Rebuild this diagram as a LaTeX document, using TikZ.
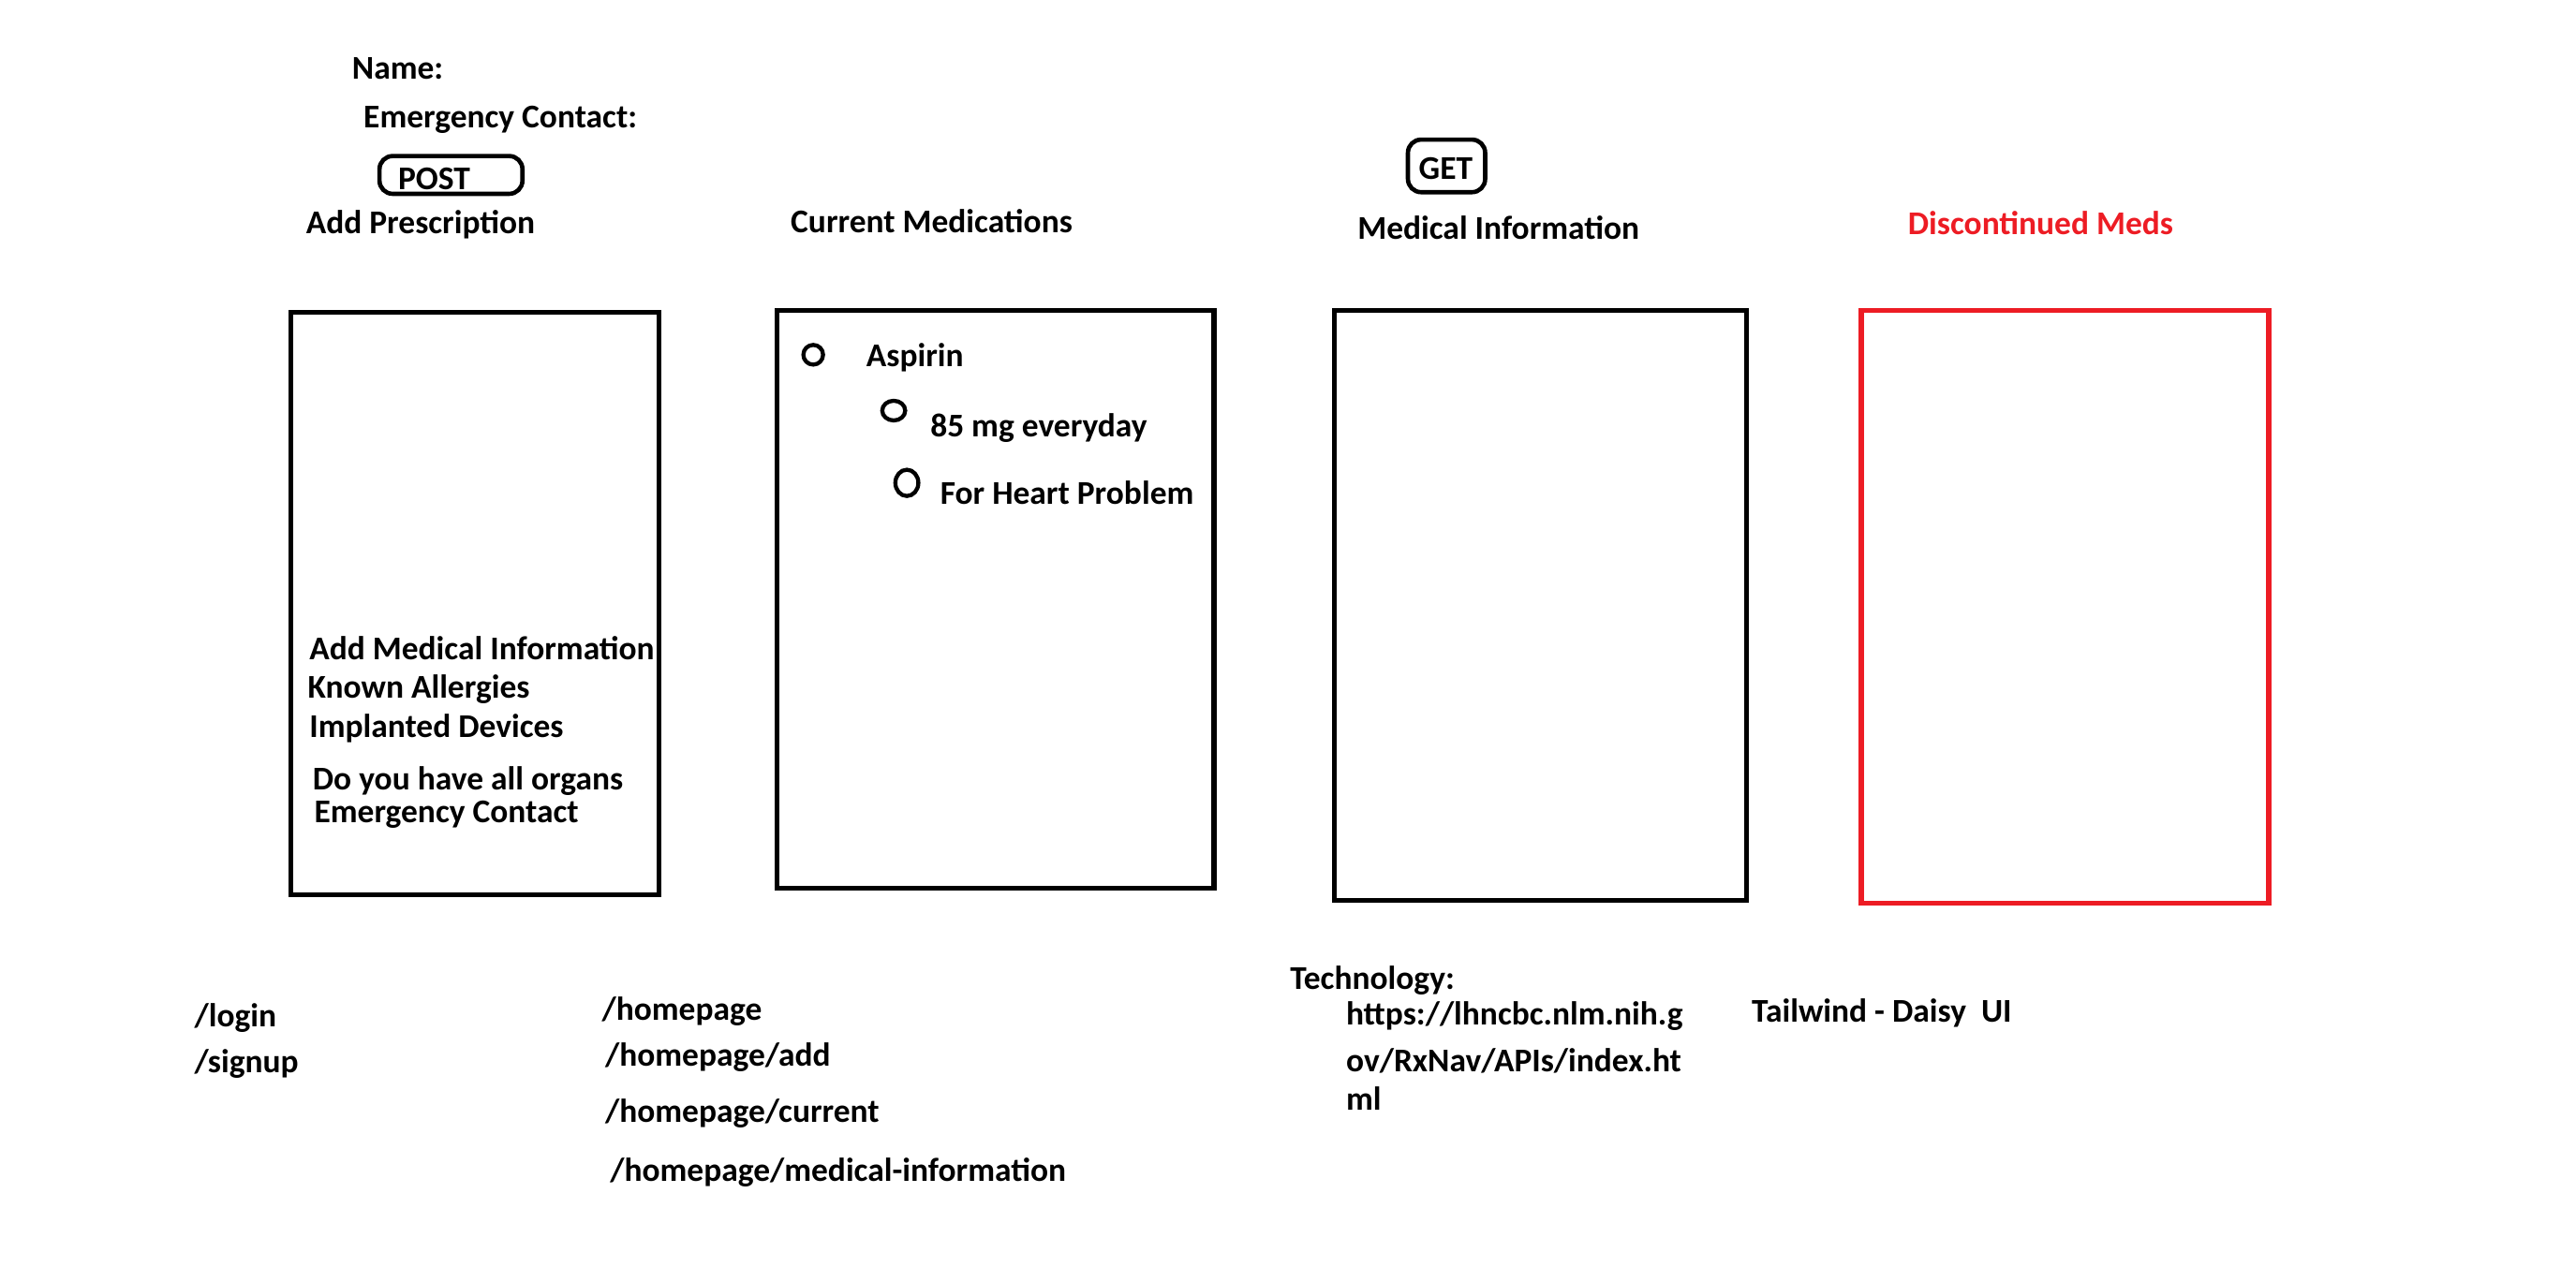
\documentclass[tikz,border=0pt]{standalone}
\usepackage{fontspec}
\setmainfont{Carlito}
\usepackage{tikz}
\definecolor{paintred}{RGB}{237,28,36}

\begin{document}
\begin{tikzpicture}[x=0.2mm, y=-0.2mm,
    txt/.style={anchor=west, inner sep=0pt, yshift=-0.35mm, font=\fontsize{11.5}{13}\selectfont\bfseries},
    panel/.style={draw, line width=1.7pt},
    btn/.style={draw, line width=1.5pt, rounded corners=1.6mm, inner sep=0pt}]
    \useasboundingbox (0,0) rectangle (1568,771);

    % header
    \draw
    (214,40) node[txt] (name) {Name:}
    (221,71) node[txt] (emerg) {Emergency Contact:}
    (186,135) node[txt] (addpres) {Add Prescription}
    (481,133) node[txt] (curmeds) {Current Medications}
    (826,137) node[txt] (medinfo) {Medical Information}
    (1161,134) node[txt, text=paintred] (discmeds) {Discontinued Meds}
    ;
    \draw[btn] (231,95) rectangle (318,118);
    \node[txt] (post) at (242,107) {POST};
    \draw[btn] (857,85) rectangle (904,117);
    \node[txt, anchor=center] (get) at (880,101) {GET};

    % panels
    \draw[panel] (177,190) rectangle (401,545);
    \draw[panel] (473,189) rectangle (739,541);
    \draw[panel] (812,189) rectangle (1063,548);
    \draw[panel, paintred] (1133,189) rectangle (1381,550);

    % current medications list
    \draw[line width=1.4pt]
    (495,216) ellipse [x radius=6, y radius=6]
    (544,250) ellipse [x radius=7, y radius=6]
    (552,294) ellipse [x radius=7, y radius=8]
    ;
    \draw
    (527,216) node[txt] (aspirin) {Aspirin}
    (566,259) node[txt] (dose) {85 mg everyday}
    (572,298) node[txt] (reason) {For Heart Problem}
    ;

    % add prescription form
    \draw
    (188,393) node[txt] (addmed) {Add Medical Information}
    (187,418) node[txt] (allerg) {Known Allergies}
    (188,442) node[txt] (implant) {Implanted Devices}
    (190,474) node[txt] (organs) {Do you have all organs}
    (191,494) node[txt] (econtact) {Emergency Contact}
    ;

    % routes
    \draw
    (118,618) node[txt] (login) {/login}
    (118,646) node[txt] (signup) {/signup}
    (366,614) node[txt] (home) {/homepage}
    (368,642) node[txt] (homeadd) {/homepage/add}
    (368,676) node[txt] (homecur) {/homepage/current}
    (371,712) node[txt] (homemed) {/homepage/medical-information}
    ;

    % technology
    \draw
    (785,595) node[txt] (tech) {Technology:}
    (819,617) node[txt] (url1) {https://lhncbc.nlm.nih.g}
    (819,644) node[txt] (url2) {ov/RxNav/APIs/index.ht}
    (819,667) node[txt] (url3) {ml}
    (1066,615) node[txt] (tailwind) {Tailwind - Daisy\ \ UI}
    ;
\end{tikzpicture}
\end{document}
